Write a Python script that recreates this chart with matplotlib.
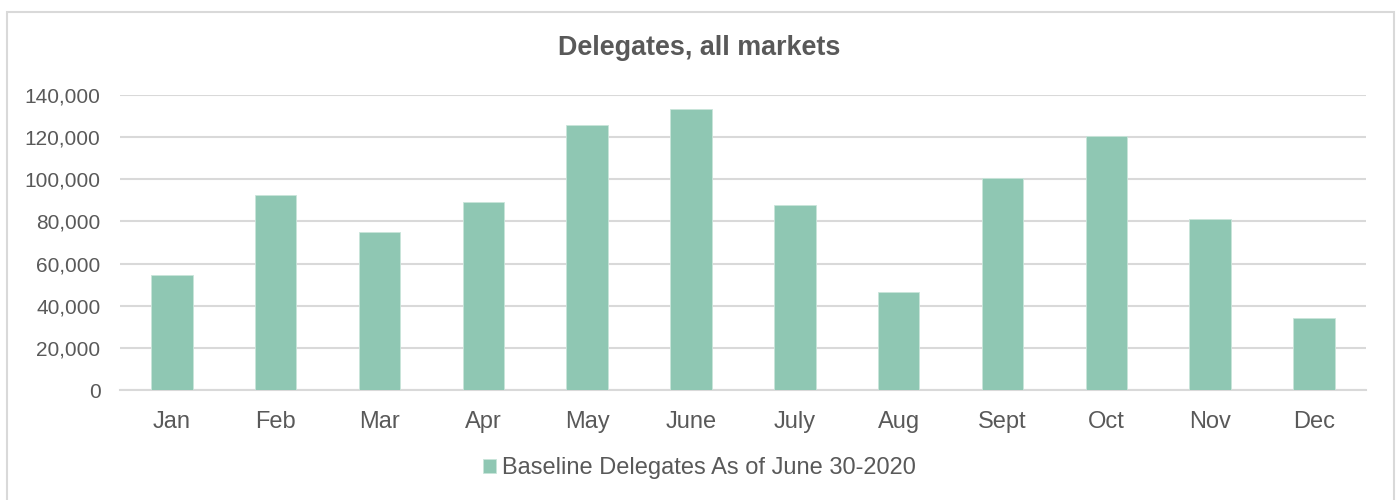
import matplotlib
matplotlib.use("Agg")
import matplotlib.pyplot as plt
from matplotlib.patches import Rectangle

plt.rcParams['font.family'] = ['Liberation Sans', 'DejaVu Sans']

months = ["Jan", "Feb", "Mar", "Apr", "May", "June", "July", "Aug", "Sept", "Oct", "Nov", "Dec"]
delegates = [54600, 92400, 75100, 89100, 125800, 133200, 87600, 46400, 100600, 120400, 81000, 34300]
yticks = [0, 20000, 40000, 60000, 80000, 100000, 120000, 140000]
title = "Delegates, all markets"
series_name = "Baseline Delegates As of June 30-2020"

TXT = "#595959"
BAR = "#8FC7B3"
GRID = "#D9D9D9"

fig = plt.figure(figsize=(13.98, 5.0), dpi=100)
fig.patches.append(Rectangle((0.005, -0.05), 0.992, 1.026, transform=fig.transFigure,
                             fill=False, edgecolor=GRID, linewidth=1.5, zorder=0))
ax = fig.add_axes([0.0858, 0.22, 0.8912, 0.59])

x = list(range(len(months)))
ax.bar(x, delegates, width=0.4, color=BAR, edgecolor="#C9E5DA", linewidth=0.6,
       label=series_name, zorder=3)

ax.set_xlim(-0.5, len(months) - 0.5)
ax.set_ylim(0, 140000)
ax.set_yticks(yticks)
ax.set_yticklabels([f"{v:,}" for v in yticks])
ax.set_xticks(x)
ax.set_xticklabels(months)
ax.tick_params(axis="both", length=0, colors=TXT)
ax.tick_params(axis="y", labelsize=15, pad=14)
ax.tick_params(axis="x", labelsize=17, pad=15)
ax.yaxis.grid(True, color=GRID, linewidth=1.5, zorder=0)
for s in ["top", "right", "left"]:
    ax.spines[s].set_visible(False)
ax.spines["bottom"].set_color(GRID)
ax.spines["bottom"].set_linewidth(1.5)

fig.text(0.5, 1 - 48 / 500, title, ha="center", va="center", fontsize=19.4,
         fontweight="bold", color=TXT)

leg = fig.legend(loc="center", bbox_to_anchor=(0.5, 1 - 468 / 500), frameon=False,
                 fontsize=17, handlelength=0.55, handleheight=0.55, handletextpad=0.25)
for t in leg.get_texts():
    t.set_color(TXT)

fig.savefig("out.png", dpi=100)
